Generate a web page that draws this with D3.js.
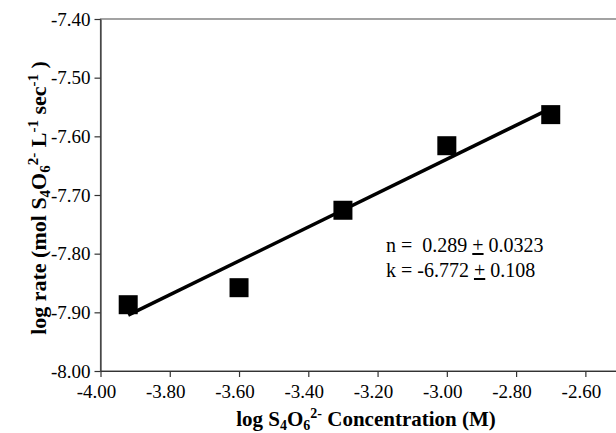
<!DOCTYPE html>
<html>
<head>
<meta charset="utf-8">
<script src="https://cdn.jsdelivr.net/npm/d3@7"></script>
<style>
  html, body { margin: 0; padding: 0; background: #fff; }
  svg text { font-family: "Liberation Serif", "Times New Roman", serif; fill: #000; }
</style>
</head>
<body>
<div id="chart"></div>
<script>
// measured points (log concentration vs log rate)
var logConc = [-3.92, -3.60, -3.30, -3.00, -2.70];
var logRate = [-7.887, -7.858, -7.726, -7.616, -7.563];

// fit reported on the chart
var fitN = 0.289, fitK = -6.772;
var fitLabels = ['n =  0.289 ', '0.0323', 'k = -6.772 ', '0.108'];

var xTicks = [-4.0, -3.8, -3.6, -3.4, -3.2, -3.0, -2.8, -2.6];
var yTicks = [-7.4, -7.5, -7.6, -7.7, -7.8, -7.9, -8.0];

var width = 616, height = 433;
var margin = {left: 100.5, top: 19, right: -4, bottom: 62};

var svg = d3.select('#chart')
    .append('svg:svg')
    .attr('width', width)
    .attr('height', height);

var x = d3.scaleLinear().domain([-4.0, -2.5]).range([margin.left, width - margin.right]);
var y = d3.scaleLinear().domain([-8.0, -7.4]).range([height - margin.bottom, margin.top]);

// frame (right side falls off the picture)
svg.append('rect')
    .attr('x', x(-4.0)).attr('y', y(-7.4))
    .attr('width', x(-2.5) - x(-4.0)).attr('height', y(-8.0) - y(-7.4))
    .attr('fill', 'none').attr('stroke', '#666').attr('stroke-width', 1.2);

var fmt = d3.format('.2f');
function minus(s) { return s.replace('−', '-'); }

// axes: lines and ticks from d3, labels drawn separately below
var xAxis = svg.append('g')
    .attr('transform', 'translate(0,' + y(-8.0) + ')')
    .call(d3.axisBottom(x).tickValues(xTicks).tickSize(6).tickSizeOuter(0));
var yAxis = svg.append('g')
    .attr('transform', 'translate(' + x(-4.0) + ',0)')
    .call(d3.axisLeft(y).tickValues(yTicks).tickSize(6).tickSizeOuter(0));

[xAxis, yAxis].forEach(function(a) {
    a.select('.domain').attr('stroke', '#333').attr('stroke-width', 1.2);
    a.selectAll('.tick line').attr('stroke', '#333').attr('stroke-width', 1.2);
    a.selectAll('.tick text').remove();
});

var labels = svg.append('g')
    .style('font-family', '"Times New Roman", "Liberation Serif", serif')
    .style('font-size', '19px');
labels.selectAll('text.xl')
    .data(xTicks)
    .enter().append('text')
    .attr('class', 'xl')
    .attr('x', function(d) { return x(d) - 4; })
    .attr('y', y(-8.0) + 27)
    .attr('text-anchor', 'middle')
    .text(function(d) { return minus(fmt(d)); });
labels.selectAll('text.yl')
    .data(yTicks)
    .enter().append('text')
    .attr('class', 'yl')
    .attr('x', x(-4.0) - 10)
    .attr('y', function(d) { return y(d) + 6.5; })
    .attr('text-anchor', 'end')
    .text(function(d) { return minus(fmt(d)); });

// fitted line
svg.append('line')
    .attr('x1', x(logConc[0])).attr('y1', y(fitN * logConc[0] + fitK))
    .attr('x2', x(logConc[logConc.length - 1])).attr('y2', y(fitN * logConc[logConc.length - 1] + fitK))
    .attr('stroke', '#000').attr('stroke-width', 3.5);

// square markers
var size = 19;
svg.selectAll('rect.pt')
    .data(d3.zip(logConc, logRate))
    .enter().append('rect')
    .attr('class', 'pt')
    .attr('x', function(d) { return x(d[0]) - size / 2; })
    .attr('y', function(d) { return y(d[1]) - size / 2; })
    .attr('width', size).attr('height', size)
    .attr('fill', '#000');

// annotation
function pm(t) {
    t.append('tspan').text('+').style('text-decoration', 'underline');
}
var ann = svg.append('g').style('font-size', '20px');
var t1 = ann.append('text').attr('x', 386).attr('y', 252).style('white-space', 'pre');
t1.append('tspan').text(fitLabels[0]);
pm(t1);
t1.append('tspan').text(' ' + fitLabels[1]);
var t2 = ann.append('text').attr('x', 386).attr('y', 277).style('white-space', 'pre');
t2.append('tspan').text(fitLabels[2]);
pm(t2);
t2.append('tspan').text(' ' + fitLabels[3]);

// x axis title
var xt = svg.append('text')
    .attr('x', 366).attr('y', 426)
    .attr('text-anchor', 'middle')
    .style('font-size', '21px').style('font-weight', 'bold');
xt.append('tspan').text('log S');
xt.append('tspan').text('4').attr('baseline-shift', '-25%').style('font-size', '14px');
xt.append('tspan').text('O');
xt.append('tspan').text('6').attr('baseline-shift', '-25%').style('font-size', '14px');
xt.append('tspan').text('2-').attr('baseline-shift', '55%').style('font-size', '14px');
xt.append('tspan').text(' Concentration (M)');

// y axis title
var yt = svg.append('text')
    .attr('transform', 'translate(46,198)rotate(-90)')
    .attr('text-anchor', 'middle')
    .style('font-size', '22px').style('font-weight', 'bold');
yt.append('tspan').text('log rate (mol S');
yt.append('tspan').text('4').attr('baseline-shift', '-25%').style('font-size', '15px');
yt.append('tspan').text('O');
yt.append('tspan').text('6').attr('baseline-shift', '-25%').style('font-size', '15px');
yt.append('tspan').text('2-').attr('baseline-shift', '55%').style('font-size', '15px');
yt.append('tspan').text(' L');
yt.append('tspan').text('-1').attr('baseline-shift', '55%').style('font-size', '15px');
yt.append('tspan').text(' sec');
yt.append('tspan').text('-1').attr('baseline-shift', '55%').style('font-size', '15px');
yt.append('tspan').text(' )');
</script>
</body>
</html>
